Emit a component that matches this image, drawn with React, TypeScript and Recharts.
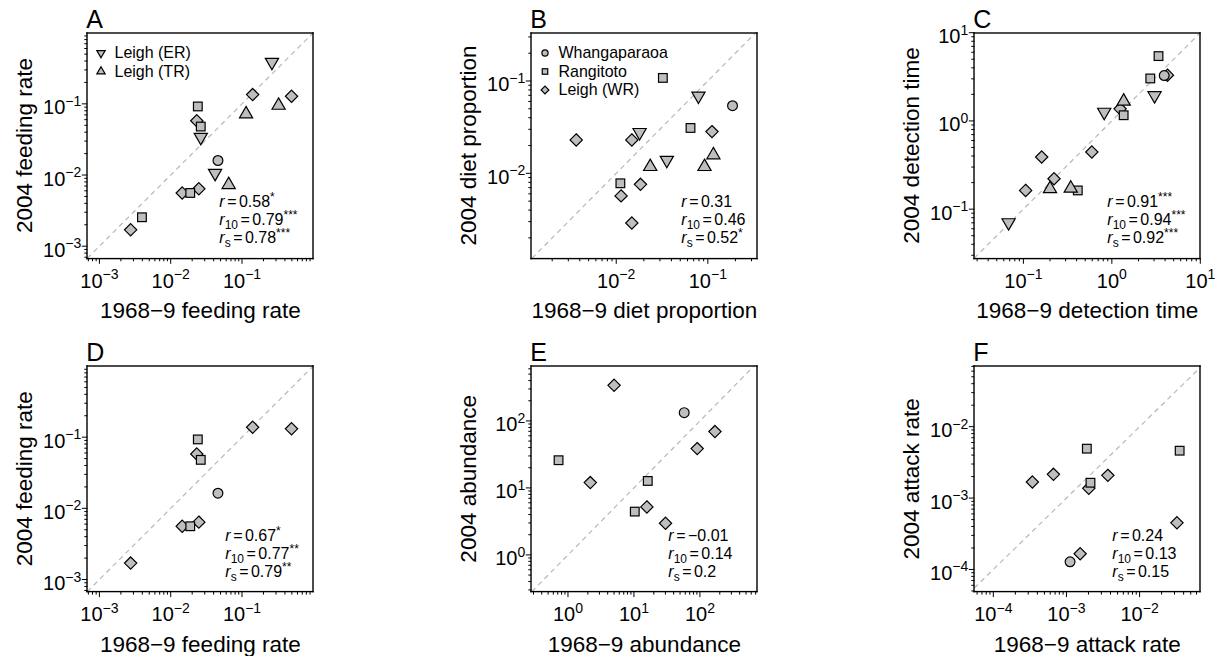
import React from 'react';
import { ScatterChart, Scatter, XAxis, YAxis, ReferenceLine, Legend } from 'recharts';

type Pt = [number, number];

const FONT = '"Liberation Sans", Arial, Helvetica, sans-serif';
const FILL = '#bebebe';

const sites = ['Leigh (WR)', 'Rangitoto', 'Whangaparaoa', 'Leigh (ER)', 'Leigh (TR)'];
const siteShapes = ['diamond', 'square', 'circle', 'down', 'up'];

// A: feeding rate, all sites
const aWR: Pt[] = [[0.141, 0.135], [0.495, 0.128], [0.0232, 0.058], [0.0248, 0.0064], [0.0145, 0.0056], [0.00274, 0.0017]];
const aRang: Pt[] = [[0.024, 0.092], [0.0264, 0.048], [0.0188, 0.0056], [0.00395, 0.00255]];
const aWhang: Pt[] = [[0.046, 0.016]];
const aER: Pt[] = [[0.263, 0.385], [0.0264, 0.034], [0.0419, 0.0106]];
const aTR: Pt[] = [[0.326, 0.095], [0.114, 0.072], [0.065, 0.0073]];
const aStats = ['0.58*', '0.79***', '0.78***'];

// B: diet proportion
const bWR: Pt[] = [[0.111, 0.0283], [0.0148, 0.023], [0.00366, 0.023], [0.0184, 0.0076], [0.0113, 0.0057], [0.0148, 0.0029]];
const bRang: Pt[] = [[0.0323, 0.108], [0.0647, 0.031], [0.0111, 0.0078]];
const bWhang: Pt[] = [[0.186, 0.054]];
const bER: Pt[] = [[0.079, 0.069], [0.018, 0.0278], [0.0357, 0.0139]];
const bTR: Pt[] = [[0.115, 0.0158], [0.092, 0.0118], [0.0235, 0.0118]];
const bStats = ['0.31', '0.46', '0.52*'];

// C: detection time
const cWR: Pt[] = [[4.25, 3.3], [1.24, 1.37], [0.594, 0.445], [0.161, 0.39], [0.222, 0.221], [0.106, 0.163]];
const cRang: Pt[] = [[3.37, 5.43], [2.72, 3.03], [1.36, 1.16], [0.412, 0.163]];
const cWhang: Pt[] = [[3.91, 3.27]];
const cER: Pt[] = [[3.04, 1.94], [0.82, 1.26], [0.068, 0.0705]];
const cTR: Pt[] = [[1.36, 1.67], [0.2, 0.17], [0.343, 0.172]];
const cStats = ['0.91***', '0.94***', '0.92***'];

// D: feeding rate, Leigh (WR) + other sites only
const dWR: Pt[] = [[0.141, 0.138], [0.495, 0.131], [0.0232, 0.058], [0.0248, 0.0064], [0.0145, 0.0056], [0.00274, 0.0017]];
const dRang: Pt[] = [[0.024, 0.093], [0.0264, 0.048], [0.0188, 0.0056]];
const dWhang: Pt[] = [[0.046, 0.0163]];
const dStats = ['0.67*', '0.77**', '0.79**'];

// E: abundance
const eWR: Pt[] = [[5.0, 340], [169, 69.3], [91, 38.6], [2.18, 12.0], [15.7, 5.2], [30.1, 2.97]];
const eRang: Pt[] = [[0.72, 25.9], [16.2, 12.7], [10.3, 4.43]];
const eWhang: Pt[] = [[57.8, 133]];
const eStats = ['\u22120.01', '0.14', '0.2'];

// F: attack rate
const fWR: Pt[] = [[0.000664, 0.00215], [0.00368, 0.00208], [0.000342, 0.00168], [0.00202, 0.00137], [0.0324, 0.00045], [0.00154, 0.000166]];
const fRang: Pt[] = [[0.0019, 0.00492], [0.0353, 0.00461], [0.00213, 0.00164]];
const fWhang: Pt[] = [[0.00112, 0.000128]];
const fStats = ['0.24', '0.13', '0.15'];

// axis domains / major ticks as log10 exponents
const panels = [
  { letter: 'A', xLabel: '1968\u22129 feeding rate', yLabel: '2004 feeding rate', xDom: [-3.17, 0], yDom: [-3.17, 0], xMaj: [-3, -2, -1], yMaj: [-3, -2, -1], series: [aWR, aRang, aWhang, aER, aTR], stats: aStats, legend: ['Leigh (ER)', 'Leigh (TR)'] },
  { letter: 'B', xLabel: '1968\u22129 diet proportion', yLabel: '2004 diet proportion', xDom: [-2.927, -0.46], yDom: [-2.92, -0.477], xMaj: [-2, -1], yMaj: [-2, -1], series: [bWR, bRang, bWhang, bER, bTR], stats: bStats, legend: ['Whangaparaoa', 'Rangitoto', 'Leigh (WR)'] },
  { letter: 'C', xLabel: '1968\u22129 detection time', yLabel: '2004 detection time', xDom: [-1.555, 1], yDom: [-1.557, 1], xMaj: [-1, 0, 1], yMaj: [-1, 0, 1], series: [cWR, cRang, cWhang, cER, cTR], stats: cStats, legend: [] as string[] },
  { letter: 'D', xLabel: '1968\u22129 feeding rate', yLabel: '2004 feeding rate', xDom: [-3.17, 0], yDom: [-3.17, 0], xMaj: [-3, -2, -1], yMaj: [-3, -2, -1], series: [dWR, dRang, dWhang, [], []], stats: dStats, legend: [] as string[] },
  { letter: 'E', xLabel: '1968\u22129 abundance', yLabel: '2004 abundance', xDom: [-0.556, 2.87], yDom: [-0.548, 2.82], xMaj: [0, 1, 2], yMaj: [0, 1, 2], series: [eWR, eRang, eWhang, [], []], stats: eStats, legend: [] as string[] },
  { letter: 'F', xLabel: '1968\u22129 attack rate', yLabel: '2004 attack rate', xDom: [-4.26, -1.17], yDom: [-4.31, -1.15], xMaj: [-4, -3, -2], yMaj: [-4, -3, -2], series: [fWR, fRang, fWhang, [], []], stats: fStats, legend: [] as string[] },
];

// layout
const COL_LEFT = [0, 444, 887];
const ROW_TOP = [0, 328];
const CW = 334;
const CH = 328;
const PL = 87.3;
const PW = 226;
const PH = 225.6;
const ROW_MT = [32.7, 38];
const STAT_DX = [-94, -76, -93, -88, -89, -88];

const TICK_FS = 20;
const SUP_FS = 14;
const TITLE_FS = 22.5;
const STAT_FS = 16;
const FRAME_W = 1.4;

const p10 = (e: number) => (Number.isInteger(e) ? Number('1e' + e) : Math.pow(10, e));

function axisTicks(dom: number[], maj: number[]) {
  const out = maj.map(p10);
  for (let k = Math.floor(dom[0]); k < Math.ceil(dom[1]); k++) {
    for (let m = 2; m <= 9; m++) {
      const v = m * p10(k);
      const lv = Math.log10(v);
      if (lv >= dom[0] && lv <= dom[1]) out.push(v);
    }
  }
  return out.sort((a, b) => a - b);
}

const isMajor = (v: number) => {
  const lv = Math.log10(v);
  return Math.abs(lv - Math.round(lv)) < 1e-9;
};
const expLabel = (v: number) => {
  const e = Math.round(Math.log10(v));
  return e < 0 ? '\u2212' + -e : String(e);
};

const XTick = (props: any) => {
  const { x, y, payload } = props;
  const major = isMajor(payload.value);
  return (
    <g>
      <line x1={x} x2={x} y1={y} y2={y + (major ? 5.5 : 3)} stroke="#000" strokeWidth={1} />
      {major && (
        <text x={x} y={y + 29.5} textAnchor="middle" fontFamily={FONT} fontSize={TICK_FS} fill="#000">
          10<tspan dy={-8.5} fontSize={SUP_FS}>{expLabel(payload.value)}</tspan>
        </text>
      )}
    </g>
  );
};

const YTick = (props: any) => {
  const { x, y, payload } = props;
  const major = isMajor(payload.value);
  return (
    <g>
      <line x1={x} x2={x - (major ? 5.5 : 3)} y1={y} y2={y} stroke="#000" strokeWidth={1} />
      {major && (
        <text x={x - 6} y={y + 10.5} textAnchor="end" fontFamily={FONT} fontSize={TICK_FS} fill="#000">
          10<tspan dy={-8.5} fontSize={SUP_FS}>{expLabel(payload.value)}</tspan>
        </text>
      )}
    </g>
  );
};

const Marker = ({ kind, cx, cy, r }: { kind: string; cx: number; cy: number; r: number }) => {
  const st = { fill: FILL, stroke: '#000', strokeWidth: 1.2 };
  if (kind === 'circle') return <circle cx={cx} cy={cy} r={r} {...st} />;
  if (kind === 'square') {
    const h = r * 0.886;
    return <rect x={cx - h} y={cy - h} width={2 * h} height={2 * h} {...st} />;
  }
  if (kind === 'diamond') {
    const d = r * 1.253;
    return <polygon points={`${cx},${cy - d} ${cx + d},${cy} ${cx},${cy + d} ${cx - d},${cy}`} {...st} />;
  }
  const a = r * 1.555;
  const w = r * 1.347;
  const b = r * 0.778;
  if (kind === 'up') return <polygon points={`${cx},${cy - a} ${cx + w},${cy + b} ${cx - w},${cy + b}`} {...st} />;
  return <polygon points={`${cx},${cy + a} ${cx + w},${cy - b} ${cx - w},${cy - b}`} {...st} />;
};

const shapeFor = (kind: string) => (props: any) => <Marker kind={kind} cx={props.cx} cy={props.cy} r={4.9} />;

// legend overlay sits exactly on the plot area; it also carries the plot frame,
// drawn as four thin filled bars
const legendContent = (names: string[]) => (props: any) => {
  const payload: any[] = props.payload || [];
  let items = names.filter((n) => payload.some((p) => p.value === n));
  if (!items.length) items = names;
  const h = FRAME_W / 2;
  return (
    <svg width={PW + 4} height={PH + 4} viewBox={`-2 -2 ${PW + 4} ${PH + 4}`}
      style={{ display: 'block', overflow: 'visible', marginLeft: -2, marginTop: -2 }}>
      <g fill="#000">
        <rect x={-h} y={-h} width={PW + FRAME_W} height={FRAME_W} />
        <rect x={-h} y={PH - h} width={PW + FRAME_W} height={FRAME_W} />
        <rect x={-h} y={-h} width={FRAME_W} height={PH + FRAME_W} />
        <rect x={PW - h} y={-h} width={FRAME_W} height={PH + FRAME_W} />
      </g>
      {items.map((n, i) => {
        const cy = 20 + i * 18.5;
        return (
          <g key={n}>
            <Marker kind={siteShapes[sites.indexOf(n)]} cx={14} cy={cy} r={3.1} />
            <text x={27.5} y={cy + 5.5} fontFamily={FONT} fontSize={16} fill="#000">{n}</text>
          </g>
        );
      })}
    </svg>
  );
};

const StatLine = ({ x, y, sub, text }: { x: number; y: number; sub: string; text: string }) => {
  const m = text.match(/^(.*?)(\*+)?$/) as RegExpMatchArray;
  return (
    <text x={x} y={y} fontFamily={FONT} fontSize={STAT_FS} fill="#000">
      <tspan fontStyle="italic">r</tspan>
      {sub && <tspan dy={4} fontSize={12}>{sub}</tspan>}
      <tspan dy={sub ? -4 : 0} dx={2.5}>=</tspan>
      <tspan dx={2.5}>{m[1]}</tspan>
      {m[2] && <tspan dy={-6} fontSize={12}>{m[2]}</tspan>}
    </text>
  );
};

const Panel = ({ idx }: { idx: number }) => {
  const p = panels[idx];
  const row = Math.floor(idx / 3);
  const col = idx % 3;
  const mt = ROW_MT[row];
  // the two axes take 1px each, so those margins are reduced by 1
  const margin = { top: mt, left: PL - 1, right: CW - PL - PW, bottom: CH - mt - PH - 1 };
  const xd = [p10(p.xDom[0]), p10(p.xDom[1])];
  const yd = [p10(p.yDom[0]), p10(p.yDom[1])];
  const lo = p10(Math.max(p.xDom[0], p.yDom[0]));
  const hi = p10(Math.min(p.xDom[1], p.yDom[1]));
  const bottom = mt + PH;
  const sx = PL + PW + STAT_DX[idx];
  return (
    <div style={{ position: 'absolute', left: COL_LEFT[col], top: ROW_TOP[row] }}>
      <ScatterChart width={CW} height={CH} margin={margin}>
        <XAxis type="number" dataKey="x" scale="log" domain={xd} allowDataOverflow ticks={axisTicks(p.xDom, p.xMaj)}
          interval={0} height={1} tickSize={0} tickMargin={0} tickLine={false} axisLine={false} tick={<XTick />} />
        <YAxis type="number" dataKey="y" scale="log" domain={yd} allowDataOverflow ticks={axisTicks(p.yDom, p.yMaj)}
          interval={0} width={1} tickSize={0} tickMargin={0} tickLine={false} axisLine={false} tick={<YTick />} />
        <ReferenceLine segment={[{ x: lo, y: lo }, { x: hi, y: hi }]} stroke="#b8b8b8" strokeWidth={1.2} strokeDasharray="5 4" />
        {p.series.map((pts, i) => (
          <Scatter key={sites[i]} name={sites[i]} data={(pts as Pt[]).map(([x, y]) => ({ x, y }))}
            shape={shapeFor(siteShapes[i])} isAnimationActive={false} legendType="none" />
        ))}
        <Legend layout="horizontal" verticalAlign="middle" align="center" content={legendContent(p.legend)}
          wrapperStyle={{ position: 'absolute', left: PL, top: mt, width: 'auto', height: 'auto', pointerEvents: 'none' }} />
        <text x={PL - 1} y={mt - 5} fontFamily={FONT} fontSize={25} fill="#000">{p.letter}</text>
        <text x={PL + PW / 2} y={bottom + 60} textAnchor="middle" fontFamily={FONT} fontSize={TITLE_FS} fill="#000">{p.xLabel}</text>
        <text x={PL - 55} y={mt + PH / 2} transform={`rotate(-90, ${PL - 55}, ${mt + PH / 2})`} textAnchor="middle"
          fontFamily={FONT} fontSize={TITLE_FS} fill="#000">{p.yLabel}</text>
        <StatLine x={sx} y={bottom - 51} sub="" text={p.stats[0]} />
        <StatLine x={sx} y={bottom - 33} sub="10" text={p.stats[1]} />
        <StatLine x={sx} y={bottom - 15} sub="s" text={p.stats[2]} />
      </ScatterChart>
    </div>
  );
}

export default function App() {
  return (
    <div style={{ position: 'absolute', left: 0, top: 0, width: 1221, height: 656, background: '#fff', overflow: 'hidden' }}>
      {panels.map((_, i) => (
        <Panel key={i} idx={i} />
      ))}
    </div>
  );
}
